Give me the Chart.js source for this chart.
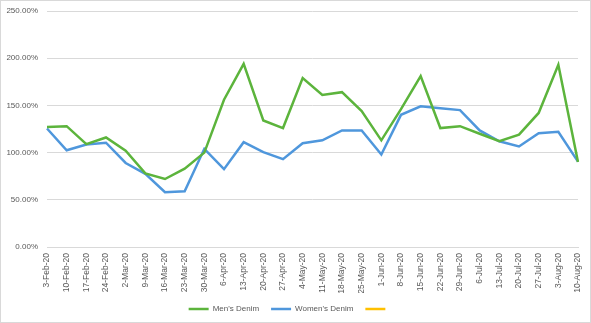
<!DOCTYPE html>
<html>
<head>
<meta charset="utf-8">
<script src="https://cdn.jsdelivr.net/npm/chart.js@4"></script>
<style>
  html, body { margin: 0; padding: 0; background: #fff; }
</style>
</head>
<body>
<canvas id="myChart" width="591" height="323"></canvas>
<script>
// weekly index, percent
var weeks = ['3-Feb-20', '10-Feb-20', '17-Feb-20', '24-Feb-20', '2-Mar-20', '9-Mar-20', '16-Mar-20',
  '23-Mar-20', '30-Mar-20', '6-Apr-20', '13-Apr-20', '20-Apr-20', '27-Apr-20', '4-May-20',
  '11-May-20', '18-May-20', '25-May-20', '1-Jun-20', '8-Jun-20', '15-Jun-20', '22-Jun-20',
  '29-Jun-20', '6-Jul-20', '13-Jul-20', '20-Jul-20', '27-Jul-20', '3-Aug-20', '10-Aug-20'];
var mensDenim = [127, 128, 109, 116, 102, 78, 72, 83, 100, 156, 194, 134, 126, 179,
  161, 164, 144, 113, 146, 181, 126, 128, 120, 112, 119, 142, 193, 90];
var womensDenim = [125.5, 102.5, 108.5, 110.5, 89, 77.5, 58, 59, 104, 82.5, 111, 100.5, 93, 110,
  113, 123.5, 123.5, 98, 140, 149, 147, 145, 123.5, 112, 106.5, 120.5, 122, 90.5];
var yTicks = [0, 50, 100, 150, 200, 250];

var frame = {
  id: 'frame',
  beforeDraw: function (chart) {
    var c = chart.ctx;
    c.save();
    c.fillStyle = '#fff';
    c.fillRect(0, 0, chart.width, chart.height);
    c.strokeStyle = '#d9d9d9';
    c.lineWidth = 1;
    c.strokeRect(0.5, 0.5, chart.width - 1, chart.height - 1);
    c.restore();
  }
};

var ctx = document.getElementById('myChart').getContext('2d');
var myChart = new Chart(ctx, {
  type: 'line',
  data: {
    labels: weeks,
    datasets: [{
      label: "Men's Denim",
      data: mensDenim,
      borderColor: '#5cb43c',
      backgroundColor: '#5cb43c',
      borderWidth: 2.5,
      pointRadius: 0,
      tension: 0
    }, {
      label: "Women's Denim",
      data: womensDenim,
      borderColor: '#4f97dc',
      backgroundColor: '#4f97dc',
      borderWidth: 2.5,
      pointRadius: 0,
      tension: 0
    }, {
      label: '',
      data: [],
      borderColor: '#ffc000',
      backgroundColor: '#ffc000',
      borderWidth: 2.5,
      pointRadius: 0
    }]
  },
  plugins: [frame],
  options: {
    responsive: false,
    animation: false,
    layout: { padding: { top: 11, right: 13, left: 0, bottom: 0 } },
    plugins: {
      tooltip: { enabled: false },
      legend: {
        position: 'bottom',
        labels: {
          usePointStyle: true,
          pointStyle: 'line',
          pointStyleWidth: 20,
          boxWidth: 18,
          padding: 12,
          color: '#595959',
          font: { family: 'Liberation Sans', size: 8 }
        }
      }
    },
    scales: {
      x: {
        offset: false,
        grid: { display: false, drawTicks: false },
        border: { color: '#d9d9d9' },
        afterFit: function (scale) {
          scale.height = 46;
          scale.paddingLeft = 0;
          scale.paddingRight = 0;
        },
        ticks: {
          autoSkip: false,
          minRotation: 90,
          maxRotation: 90,
          padding: 6,
          color: '#595959',
          font: { family: 'Liberation Sans', size: 8.5 }
        }
      },
      y: {
        min: 0,
        max: 250,
        afterBuildTicks: function (scale) {
          scale.ticks = yTicks.map(function (v) { return { value: v }; });
        },
        afterFit: function (scale) {
          scale.width = 47;
          scale.paddingTop = 0;
          scale.paddingBottom = 0;
        },
        grid: { color: '#d9d9d9', drawTicks: false },
        border: { display: false },
        ticks: {
          padding: 9,
          color: '#595959',
          font: { family: 'Liberation Sans', size: 8 },
          callback: function (value) { return value.toFixed(2) + '%'; }
        }
      }
    }
  }
});
</script>
</body>
</html>
